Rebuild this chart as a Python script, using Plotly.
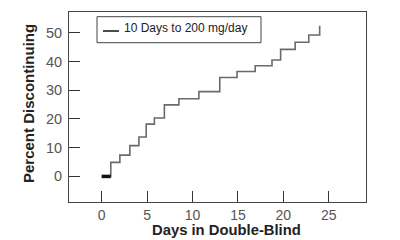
import plotly.graph_objects as go

days = [0, 1, 2, 3.1, 4.1, 4.9, 5.8, 6.9, 8.5, 10.7, 13.0, 14.9, 16.9, 18.75, 19.7, 21.3, 22.8, 24.0]
pct = [0, 4.9, 7.4, 10.7, 13.7, 18.2, 20.3, 24.9, 27.0, 29.5, 34.4, 36.5, 38.5, 40.5, 44.2, 46.7, 49.2, 52.4]
x_ticks = [0, 5, 10, 15, 20, 25]
y_ticks = [0, 10, 20, 30, 40, 50]
series_name = "10 Days to 200 mg/day"

fig = go.Figure()
fig.add_trace(go.Scatter(x=days, y=pct, mode="lines", line=dict(shape="hv", color="#6a6a6a", width=1.6),
                         showlegend=False))
fig.add_trace(go.Scatter(x=days[:2], y=[pct[0], pct[0]], mode="lines", line=dict(color="#111", width=3.5),
                         showlegend=False))

fig.update_layout(
    width=400, height=240,
    margin=dict(l=69, r=34, t=12, b=38),
    paper_bgcolor="white", plot_bgcolor="white",
    font=dict(family="Liberation Sans, Arial, sans-serif", size=14, color="#555"),
    xaxis=dict(range=[-3.6, 29.1], tickvals=x_ticks, ticks="inside", ticklen=11, tickcolor="#333",
               tickwidth=1, showline=True, mirror=True, linecolor="#444", linewidth=1,
               showgrid=False, zeroline=False, ticklabelstandoff=0,
               tickfont=dict(size=14, color="#555")),
    yaxis=dict(range=[-8.9, 57.2], tickvals=y_ticks, ticks="inside", ticklen=11, tickcolor="#333",
               tickwidth=1, showline=True, mirror=True, linecolor="#444", linewidth=1,
               showgrid=False, zeroline=False, ticklabelstandoff=3,
               tickfont=dict(size=14.5, color="#555")),
)

# legend box drawn manually
fig.add_shape(type="rect", xref="paper", yref="paper",
              x0=(97 - 69) / 297, x1=(261 - 69) / 297, y0=(202 - 42.7) / 190, y1=(202 - 16.7) / 190,
              line=dict(color="#444", width=1), fillcolor="white")
fig.add_shape(type="line", xref="paper", yref="paper",
              x0=(103 - 69) / 297, x1=(119 - 69) / 297, y0=(202 - 31) / 190, y1=(202 - 31) / 190,
              line=dict(color="#111", width=1.5))
fig.add_annotation(text=series_name, xref="paper", yref="paper", x=(122 - 69) / 297, y=(202 - 28) / 190,
                   xanchor="left", yanchor="middle", showarrow=False,
                   font=dict(family="Liberation Sans, Arial, sans-serif", size=12, color="#222"))

# axis titles
fig.add_annotation(text="Percent Discontinuing", xref="paper", yref="paper",
                   x=(29 - 69) / 297, y=(202 - 104) / 190, textangle=-90, showarrow=False,
                   xanchor="center", yanchor="middle",
                   font=dict(family="Liberation Sans, Arial, sans-serif", size=15,
                             color="#222", weight="bold"))
fig.add_annotation(text="Days in Double-Blind", xref="paper", yref="paper",
                   x=(226 - 69) / 297, y=(202 - 229.5) / 190, showarrow=False,
                   xanchor="center", yanchor="middle",
                   font=dict(family="Liberation Sans, Arial, sans-serif", size=14.8,
                             color="#222", weight="bold"))

fig.write_html("out.html")
